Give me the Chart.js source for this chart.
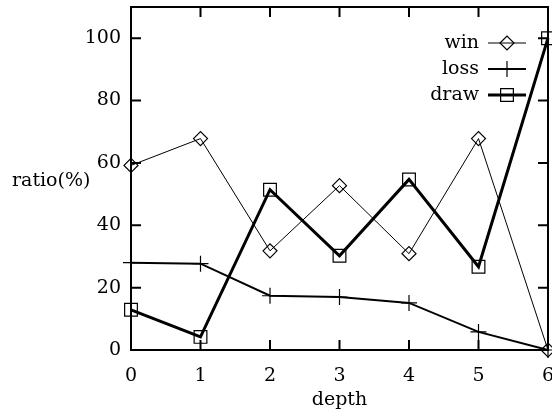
<!DOCTYPE html>
<html><head><meta charset="utf-8">
<script src="https://cdn.jsdelivr.net/npm/chart.js@4"></script>
<style>html,body{margin:0;padding:0;background:#fff;}#wrap{width:552px;height:411px;}</style>
</head><body><div id="wrap"><canvas id="c" width="552" height="411"></canvas></div>
<script>
const depths = [0, 1, 2, 3, 4, 5, 6];
const winValues = [59.2, 67.8, 31.8, 52.7, 30.9, 67.8, 0];
const lossValues = [28.0, 27.7, 17.4, 17.0, 15.1, 5.8, 0];
const drawValues = [12.9, 4.2, 51.4, 30.2, 54.7, 26.7, 100];
const yTicks = [0, 20, 40, 60, 80, 100];
const seriesNames = ['win', 'loss', 'draw'];
const xTitle = 'depth';
const yTitle = 'ratio(%)';

const FONT = '"DejaVu Serif", serif';
const FS = 19;
const pts = vals => depths.map((d, i) => ({x: d, y: vals[i]}));

const decor = {
  id: 'decor',
  afterDatasetsDraw(chart) {
    const {ctx, chartArea: a, scales: {x, y}} = chart;
    ctx.save();
    ctx.strokeStyle = '#000';
    ctx.lineWidth = 2;
    ctx.strokeRect(a.left, a.top, a.right - a.left, a.bottom - a.top);
    const tl = 10;
    ctx.beginPath();
    yTicks.forEach(v => {
      const py = y.getPixelForValue(v);
      ctx.moveTo(a.left, py); ctx.lineTo(a.left + tl, py);
      ctx.moveTo(a.right, py); ctx.lineTo(a.right - tl, py);
    });
    depths.forEach(v => {
      const px = x.getPixelForValue(v);
      ctx.moveTo(px, a.bottom); ctx.lineTo(px, a.bottom - tl);
      ctx.moveTo(px, a.top); ctx.lineTo(px, a.top + tl);
    });
    ctx.stroke();
    // y title
    ctx.fillStyle = '#000';
    ctx.font = FS + 'px ' + FONT;
    ctx.textAlign = 'left';
    ctx.textBaseline = 'middle';
    ctx.fillText(yTitle, 12, 181);
    // legend
    const ds = chart.data.datasets;
    const textRight = 479, lx0 = 488, lx1 = 526, rowY = [43, 69, 95];
    ds.forEach((d, i) => {
      const ry = rowY[i];
      ctx.fillStyle = '#000';
      ctx.textAlign = 'right';
      ctx.fillText(seriesNames[i], textRight, ry);
      ctx.lineWidth = d.borderWidth;
      ctx.beginPath(); ctx.moveTo(lx0, ry); ctx.lineTo(lx1, ry); ctx.stroke();
      ctx.fillStyle = 'rgba(0,0,0,0)';
      ctx.lineWidth = 1.2;
      Chart.helpers.drawPoint(ctx, {pointStyle: d.pointStyle, radius: d.pointRadius, borderWidth: 1.2}, (lx0 + lx1) / 2, ry);
    });
    ctx.restore();
  }
};

new Chart(document.getElementById('c'), {
  type: 'line',
  data: {
    datasets: [
      {label: seriesNames[0], data: pts(winValues), borderColor: '#000', backgroundColor: 'rgba(0,0,0,0)', borderWidth: 1, pointStyle: 'rectRot', pointRadius: 7, pointBorderWidth: 1.2, pointBorderColor: '#000', pointBackgroundColor: 'rgba(0,0,0,0)', clip: false},
      {label: seriesNames[1], data: pts(lossValues), borderColor: '#000', backgroundColor: 'rgba(0,0,0,0)', borderWidth: 2, pointStyle: 'cross', pointRadius: 8, pointBorderWidth: 1.2, pointBorderColor: '#000', clip: false},
      {label: seriesNames[2], data: pts(drawValues), borderColor: '#000', backgroundColor: 'rgba(0,0,0,0)', borderWidth: 3, pointStyle: 'rect', pointRadius: 9, pointBorderWidth: 1.2, pointBorderColor: '#000', pointBackgroundColor: 'rgba(0,0,0,0)', clip: false}
    ]
  },
  options: {
    responsive: false,
    animation: false,
    devicePixelRatio: 1,
    layout: {autoPadding: false, padding: {left: 0, right: 4, top: 7, bottom: 0}},
    plugins: {legend: {display: false}, tooltip: {enabled: false}},
    elements: {line: {tension: 0}},
    scales: {
      x: {
        type: 'linear', min: 0, max: 6,
        grid: {display: false, drawTicks: false},
        border: {display: false},
        ticks: {stepSize: 1, color: '#000', padding: 15, font: {family: FONT, size: FS}, maxRotation: 0},
        title: {display: true, text: xTitle, color: '#000', font: {family: FONT, size: FS}, padding: {top: 0, bottom: 0}},
        afterFit(s) { s.height = 61; s.paddingLeft = 0; s.paddingRight = 0; }
      },
      y: {
        min: 0, max: 110,
        grid: {display: false, drawTicks: false},
        border: {display: false},
        ticks: {stepSize: 20, includeBounds: false, color: '#000', padding: 10, font: {family: FONT, size: FS}},
        afterFit(s) { s.width = 131; s.paddingTop = 0; s.paddingBottom = 0; }
      }
    }
  },
  plugins: [decor]
});
</script>
</body></html>
